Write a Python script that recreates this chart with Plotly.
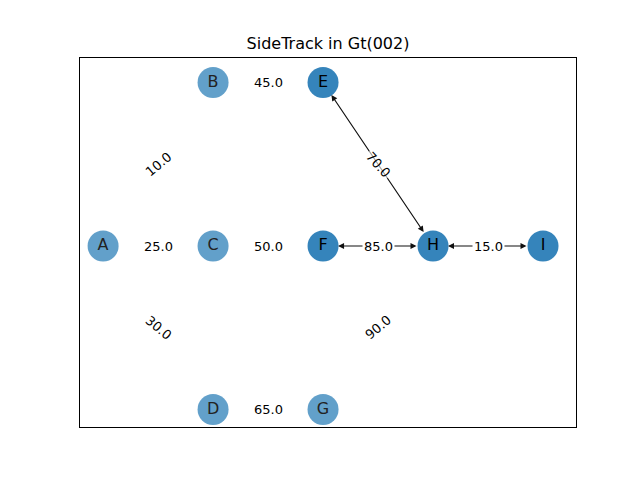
import plotly.graph_objects as go

nodes = ["A", "B", "C", "D", "E", "F", "G", "H", "I"]
node_x = [0, 1, 1, 1, 2, 2, 2, 3, 4]
node_y = [0, 1, 0, -1, 1, 0, -1, 0, 0]
highlight = ["E", "F", "H", "I"]

edge_src = ["A", "A", "A", "B", "C", "D", "E", "F", "G", "H"]
edge_dst = ["B", "C", "D", "E", "F", "G", "H", "H", "H", "I"]
edge_w = [10.0, 25.0, 30.0, 45.0, 50.0, 65.0, 70.0, 85.0, 90.0, 15.0]
edge_angle = [-40, 0, 40, 0, 0, 0, 48, 0, -40, 0]
path_edges = [("E", "H"), ("F", "H"), ("H", "I")]

pos = {n: (x, y) for n, x, y in zip(nodes, node_x, node_y)}

fig = go.Figure()

for a, b in path_edges:
    fig.add_annotation(x=pos[a][0], y=pos[a][1], ax=pos[b][0], ay=pos[b][1],
                       xref="x", yref="y", axref="x", ayref="y", text="",
                       showarrow=True, arrowhead=2, startarrowhead=2, arrowside="end+start",
                       arrowsize=1, arrowwidth=1.2, arrowcolor="#111",
                       standoff=15, startstandoff=15)

for a, b, w, ang in zip(edge_src, edge_dst, edge_w, edge_angle):
    mx = (pos[a][0] + pos[b][0]) / 2
    my = (pos[a][1] + pos[b][1]) / 2
    fig.add_annotation(x=mx, y=my, xref="x", yref="y", text=f"{w:.1f}", showarrow=False,
                       textangle=ang, bgcolor="rgba(255,255,255,0.6)" if ang else "white",
                       font=dict(family="DejaVu Sans", size=13, color="black"))

for n in nodes:
    on = n in highlight
    fig.add_trace(go.Scatter(
        x=[pos[n][0]], y=[pos[n][1]], mode="markers+text", text=[n],
        textposition="middle center",
        marker=dict(size=31, color="#1f77b4", opacity=0.9 if on else 0.7,
                    line=dict(width=0)),
        textfont=dict(family="DejaVu Sans", size=16, color="black" if on else "#222"),
        showlegend=False, hoverinfo="skip"))

fig.update_xaxes(range=[-0.21, 4.3], visible=True, showgrid=False, zeroline=False,
                 showticklabels=False, ticks="", showline=True, mirror=True,
                 linecolor="black", linewidth=1)
fig.update_yaxes(range=[-1.107, 1.15], showgrid=False, zeroline=False,
                 showticklabels=False, ticks="", showline=True, mirror=True,
                 linecolor="black", linewidth=1)
fig.update_layout(
    width=640, height=480, plot_bgcolor="white", paper_bgcolor="white",
    margin=dict(l=72, r=72, t=50, b=61),
    title=dict(text="SideTrack in Gt(002)", x=0.5, xanchor="center", y=0.927,
               yanchor="middle", font=dict(family="DejaVu Sans", size=16, color="black")),
)

fig.write_html("out.html")
